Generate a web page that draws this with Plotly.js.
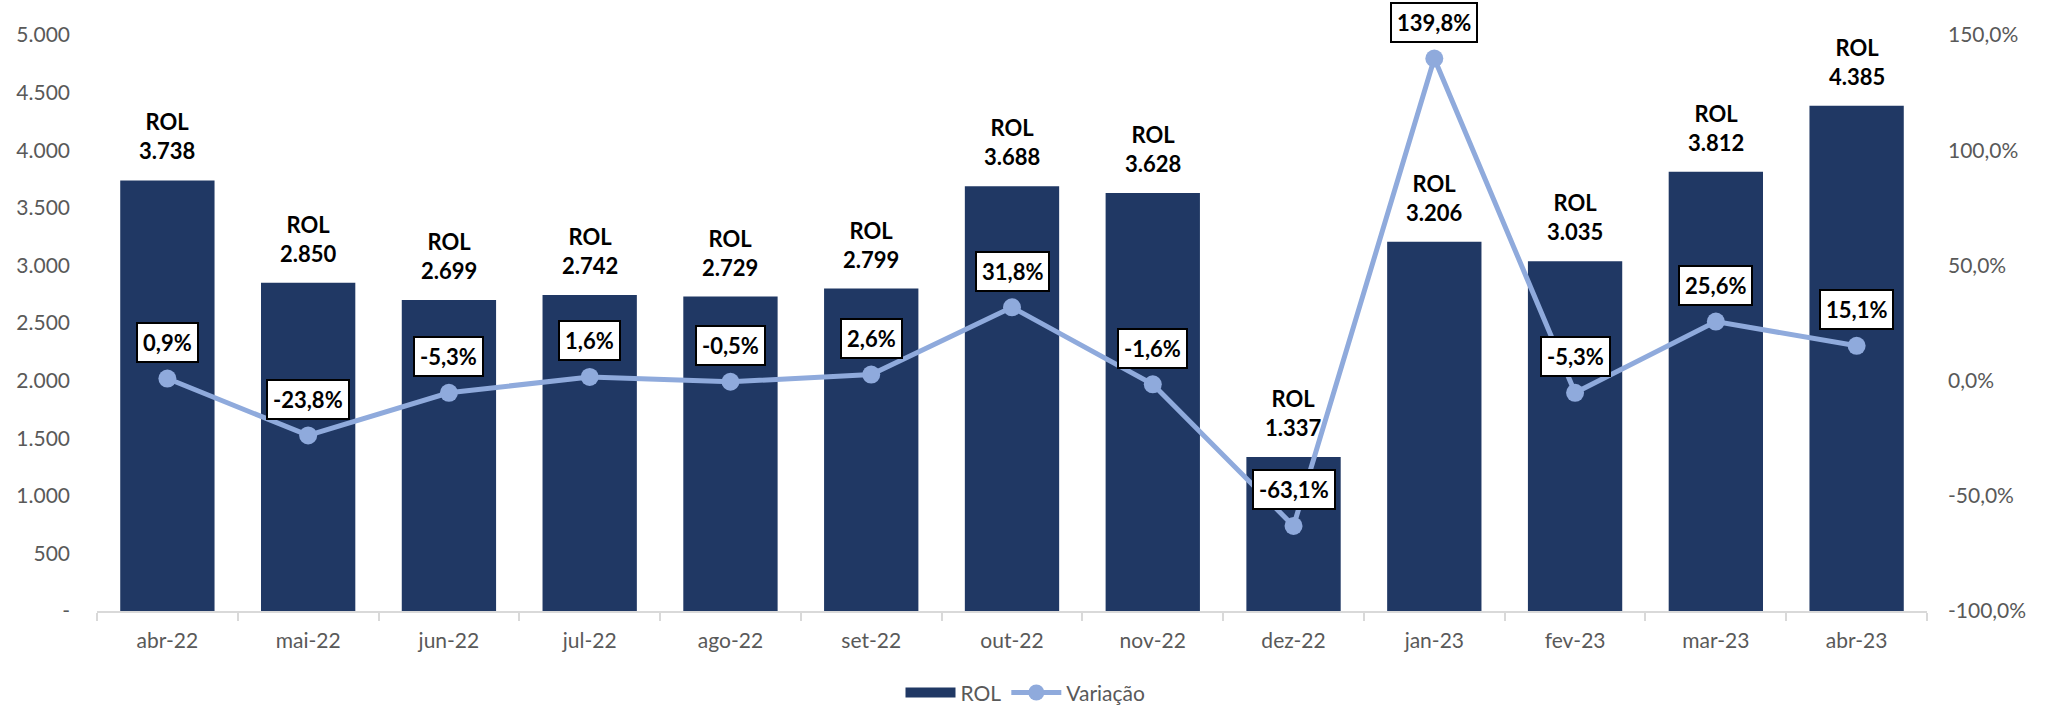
<!DOCTYPE html>
<html>
<head>
<meta charset="utf-8">
<script src="https://cdn.plot.ly/plotly-3.0.1.min.js"></script>
<style>html,body{margin:0;padding:0;background:#fff;}#chart{width:2051px;height:707px;}</style>
</head>
<body>
<div id="chart"></div>
<script>
const categories = ["abr-22","mai-22","jun-22","jul-22","ago-22","set-22","out-22","nov-22","dez-22","jan-23","fev-23","mar-23","abr-23"];
const rol = [3738, 2850, 2699, 2742, 2729, 2799, 3688, 3628, 1337, 3206, 3035, 3812, 4385];
const variacao = [0.9, -23.8, -5.3, 1.6, -0.5, 2.6, 31.8, -1.6, -63.1, 139.8, -5.3, 25.6, 15.1];
const leftTicks = [0, 500, 1000, 1500, 2000, 2500, 3000, 3500, 4000, 4500, 5000];
const leftTickText = ["-", "500", "1.000", "1.500", "2.000", "2.500", "3.000", "3.500", "4.000", "4.500", "5.000"];
const rightTicks = [-100, -50, 0, 50, 100, 150];
const rightTickText = ["-100,0%", "-50,0%", "0,0%", "50,0%", "100,0%", "150,0%"];

const fmtInt = v => String(v).replace(/\B(?=(\d{3})+(?!\d))/g, '.');
const fmtPct = v => v.toFixed(1).replace('.', ',') + '%';

const FONT = 'Lato, "Open Sans", sans-serif';
const GRAY = '#595959';
const BAR = '#203864';

const traces = [
  {
    type: 'bar', name: 'ROL', x: categories, y: rol, showlegend: false,
    marker: {color: BAR}, hoverinfo: 'none'
  },
  {
    type: 'scatter', mode: 'lines', name: 'ROL', x: [null], y: [null],
    line: {color: BAR, width: 15}, hoverinfo: 'none'
  },
  {
    type: 'scatter', mode: 'lines+markers', name: 'Variação', x: categories, y: variacao,
    yaxis: 'y2', line: {color: '#8FAADC', width: 5}, marker: {color: '#8FAADC', size: 18},
    hoverinfo: 'none'
  }
];

const annotations = [];
categories.forEach((c, i) => {
  annotations.push({
    x: c, y: rol[i], xref: 'x', yref: 'y', yanchor: 'bottom', yshift: 14,
    text: '<b>ROL<br>' + fmtInt(rol[i]) + '</b>', showarrow: false,
    font: {family: FONT, size: 22, color: '#000'}
  });
  annotations.push({
    x: c, y: variacao[i], xref: 'x', yref: 'y2', yanchor: 'middle', yshift: 36,
    text: '<b>' + fmtPct(variacao[i]) + '</b>', showarrow: false,
    font: {family: FONT, size: 22, color: '#000'},
    bgcolor: '#fff', bordercolor: '#000', borderwidth: 2, borderpad: 5
  });
});

const layout = {
  width: 2051, height: 707,
  margin: {l: 97, r: 124, t: 35, b: 96, autoexpand: false},
  paper_bgcolor: '#fff', plot_bgcolor: '#fff',
  font: {family: FONT, size: 21, color: GRAY},
  bargap: 0.33,
  showlegend: true,
  legend: {orientation: 'h', x: 0.5, xref: 'container', xanchor: 'center',
           y: 0.02, yref: 'container', yanchor: 'middle',
           font: {family: FONT, size: 21, color: GRAY}, itemwidth: 50},
  xaxis: {
    type: 'category', range: [-0.5, 12.5], showgrid: false, showline: true, linecolor: '#D9D9D9', linewidth: 2,
    ticks: 'outside', tickson: 'boundaries', ticklen: 8, tickcolor: '#D9D9D9', tickwidth: 2,
    tickfont: {family: FONT, size: 21, color: GRAY}, ticklabelstandoff: 10
  },
  yaxis: {
    range: [0, 5000], showgrid: false, zeroline: false, showline: false,
    tickvals: leftTicks, ticktext: leftTickText, ticklabelstandoff: 26,
    tickfont: {family: FONT, size: 21, color: GRAY}
  },
  yaxis2: {
    range: [-100, 150], overlaying: 'y', side: 'right', showgrid: false, zeroline: false, showline: false,
    tickvals: rightTicks, ticktext: rightTickText, ticklabelstandoff: 20,
    tickfont: {family: FONT, size: 21, color: GRAY}
  },
  annotations: annotations
};

Plotly.newPlot('chart', traces, layout, {displayModeBar: false, staticPlot: true});
</script>
</body>
</html>
